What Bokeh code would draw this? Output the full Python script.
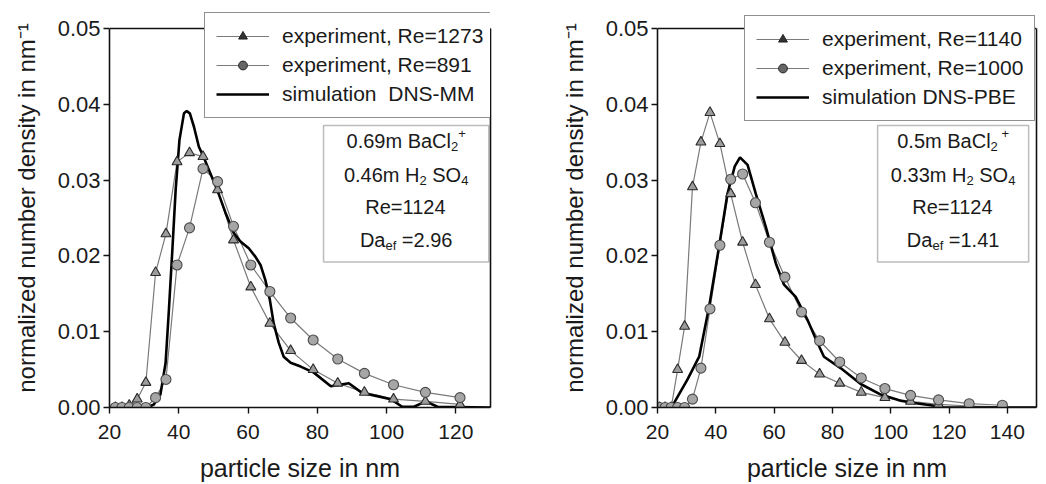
from bokeh.plotting import figure
from bokeh.layouts import row
from bokeh.models import (Range1d, FixedTicker, PrintfTickFormatter, Legend,
                          LegendItem, BoxAnnotation, Label, Span, LinearAxis)
from bokeh.embed import file_html
from bokeh.resources import INLINE

# ---------------- data: left panel (DNS-MM) ----------------
left_exp_x = [21.7, 23.6, 25.7, 28.0, 30.5, 33.3, 36.3, 39.5, 43.1, 47.0, 51.2,
              55.8, 60.8, 66.3, 72.3, 78.8, 85.9, 93.6, 102.0, 111.2, 121.2]
left_re1273 = [0, 0, 0.0003, 0.0011, 0.0033, 0.0178, 0.0229, 0.0324, 0.0336, 0.0331,
               0.0287, 0.0221, 0.0159, 0.0111, 0.0075, 0.0050, 0.0032, 0.0020,
               0.0011, 0.0008, 0.0004]
left_re891 = [0, 0, 0, 0, 0, 0.0013, 0.0037, 0.0188, 0.0237, 0.0315, 0.0298,
              0.0239, 0.0188, 0.0153, 0.0118, 0.0089, 0.0064, 0.0045, 0.0030,
              0.0020, 0.0013]
left_sim_x = [20, 30.9, 32.8, 34.7, 36.2, 37.1, 38.1, 39.1, 40.2, 41.5, 42.3, 43.2,
              44.4, 45.8, 47.2, 49.1, 51.1, 53.4, 55.9, 57.8, 60.2, 62.1, 63.6,
              65.0, 66.3, 67.4, 68.9, 70.3, 72.3, 75.2, 79.0, 83.9, 89.1, 93.0,
              97.3, 101.2, 104.5, 107.9, 111.3, 114.7, 130]
left_sim_y = [0, 0, 0.0004, 0.0017, 0.0059, 0.0125, 0.0204, 0.0287, 0.0353, 0.0388,
              0.0391, 0.0388, 0.0370, 0.0344, 0.0330, 0.0309, 0.0287, 0.0258,
              0.0230, 0.0219, 0.0210, 0.0199, 0.0188, 0.0168, 0.0142, 0.0111,
              0.0085, 0.0067, 0.0059, 0.0054, 0.0046, 0.0028, 0.0032, 0.0019,
              0.0015, 0.0011, 0.0001, 0.0001, 0.0008, 0.0001, 0]

# ---------------- data: right panel (DNS-PBE) ----------------
right_exp_x = [20.7, 22.6, 24.7, 26.9, 29.3, 32.0, 34.9, 38.0, 41.4, 45.1, 49.2,
               53.6, 58.4, 63.7, 69.4, 75.6, 82.5, 89.9, 98.0, 106.8, 116.4,
               126.9, 138.3]
right_re1140 = [0, 0, 0, 0.0050, 0.0107, 0.0291, 0.0350, 0.0389, 0.0348, 0.0282,
                0.0218, 0.0162, 0.0117, 0.0086, 0.0062, 0.0044, 0.0032, 0.0020,
                0.0013, 0.0008, 0.0004, 0.0002, 0.0001]
right_re1000 = [0, 0, 0, 0, 0, 0.0011, 0.0052, 0.0130, 0.0214, 0.0301, 0.0308,
                0.0270, 0.0218, 0.0172, 0.0126, 0.0088, 0.0060, 0.0039, 0.0025,
                0.0016, 0.0010, 0.0005, 0.0003]
right_sim_x = [20, 21.1, 25.7, 30.3, 34.3, 37.7, 41.1, 44.0, 46.5, 48.3, 50.9,
               53.7, 57.1, 60.6, 63.4, 67.4, 71.4, 74.9, 77.1, 82.8, 89.7, 96.6,
               103.4, 108.0, 113.7, 118.3, 150]
right_sim_y = [0, 0, 0.0006, 0.0037, 0.0067, 0.0133, 0.0212, 0.0282, 0.0318,
               0.0330, 0.0320, 0.0282, 0.0239, 0.0190, 0.0162, 0.0146, 0.0116,
               0.0085, 0.0067, 0.0052, 0.0031, 0.0017, 0.0009, 0.0006, 0.0003,
               0, 0]

y_ticks = [0.0, 0.01, 0.02, 0.03, 0.04, 0.05]
left_x_ticks = [20, 40, 60, 80, 100, 120]
right_x_ticks = [20, 40, 60, 80, 100, 120, 140]

left_labels = ["experiment, Re=1273", "experiment, Re=891", "simulation  DNS-MM"]
right_labels = ["experiment, Re=1140", "experiment, Re=1000", "simulation DNS-PBE"]

NB = "\u00a0"
left_box_lines = [[("0.69m BaCl", "n"), ("2", "sub"), ("+", "sup")],
                  [("0.46m H", "n"), ("2", "sub"), (NB + "SO", "n"), ("4", "sub")],
                  [("Re=1124", "n")],
                  [("Da", "n"), ("ef", "sub"), (NB + "=2.96", "n")]]
right_box_lines = [[("0.5m BaCl", "n"), ("2", "sub"), (NB + "+", "sup")],
                   [("0.33m H", "n"), ("2", "sub"), (NB + "SO", "n"), ("4", "sub")],
                   [("Re=1124", "n")],
                   [("Da", "n"), ("ef", "sub"), (NB + "=1.41", "n")]]

FONT = "Liberation Sans"
TXT = "#1a1a1a"
GRAY = "#7a7a7a"
DARK = "#111111"

CW = {'0': .556, '1': .556, '2': .556, '3': .556, '4': .556, '5': .556, '6': .556,
      '7': .556, '8': .556, '9': .556, '.': .278, ' ': .278, NB: .278, 'm': .833,
      'B': .667, 'a': .556, 'C': .722, 'l': .222, 'H': .722, 'S': .667, 'O': .778,
      'R': .722, 'e': .556, '=': .584, 'D': .722, 'f': .278, '+': .584}

NSIZE = 20
SSIZE = 13

Y_TOP = 0.05
FRAME_PAD = 400.0 / 380.0   # frame reaches above the 0.05 line so the legend can overhang


def twidth(t, size):
    return sum(CW.get(c, .556) for c in t) * size


def make_fig(width, xr, xticks, bl, br):
    p = figure(width=width, height=484, x_range=Range1d(*xr),
               y_range=Range1d(0, Y_TOP * FRAME_PAD),
               output_backend="svg", toolbar_location=None,
               min_border_left=bl, min_border_right=br, min_border_top=8,
               min_border_bottom=76)
    p.background_fill_color = "white"
    p.border_fill_color = "white"
    p.grid.visible = False
    p.outline_line_color = None
    for ax in (p.xaxis[0], p.yaxis[0]):
        ax.axis_line_width = 1.6
        ax.axis_line_color = DARK
        ax.major_tick_line_color = DARK
        ax.major_tick_line_width = 1.4
        ax.major_tick_out = 6
        ax.major_tick_in = 0
        ax.minor_tick_line_color = None
        ax.major_label_text_font = FONT
        ax.major_label_text_color = TXT
        ax.axis_label_text_font = FONT
        ax.axis_label_text_font_style = "normal"
        ax.axis_label_text_color = TXT
    p.xaxis.major_label_text_font_size = "21px"
    p.yaxis.major_label_text_font_size = "22px"
    p.xaxis.axis_label_text_font_size = "25px"
    p.yaxis.axis_label_text_font_size = "24px"
    p.yaxis.bounds = (0, Y_TOP)
    p.xaxis.ticker = FixedTicker(ticks=xticks)
    p.yaxis.ticker = FixedTicker(ticks=y_ticks)
    p.yaxis.formatter = PrintfTickFormatter(format="%.2f")
    p.xaxis.axis_label = "particle size in nm"
    p.yaxis.axis_label = "normalized number density in nm\u207b\u00b9"
    p.xaxis.major_label_standoff = 11
    p.yaxis.major_label_standoff = 3
    p.xaxis.axis_label_standoff = 12
    p.yaxis.axis_label_standoff = 15
    # frame: right side and top side
    right_ax = LinearAxis(bounds=(0, Y_TOP), ticker=FixedTicker(ticks=[]),
                          axis_line_width=1.6, axis_line_color=DARK,
                          major_tick_line_color=None, minor_tick_line_color=None,
                          major_label_text_font_size="0px")
    p.add_layout(right_ax, "right")
    p.add_layout(Span(location=Y_TOP, dimension="width", line_color=DARK,
                      line_width=1.6))
    return p


def add_series(p, ex, tri, cir, sx, sy, labels, legend_loc):
    lt = p.line(ex, tri, line_color=GRAY, line_width=1.2)
    lc = p.line(ex, cir, line_color=GRAY, line_width=1.2)
    ls = p.line(sx, sy, line_color="#000000", line_width=2.6)
    # small markers used as legend keys (hidden below the plot markers)
    m1 = p.scatter(ex, tri, marker="triangle", size=7, fill_color="#333333",
                   line_color="#222222")
    m2 = p.scatter(ex, cir, marker="circle", size=6, fill_color="#666666",
                   line_color="#222222")
    p.scatter(ex, tri, marker="triangle", size=10, fill_color="#9c9c9c",
              line_color="#2a2a2a", line_width=1.1)
    p.scatter(ex, cir, marker="circle", size=10, fill_color="#a6a6a6",
              line_color="#4a4a4a", line_width=1.1)
    leg = Legend(items=[LegendItem(label=labels[0], renderers=[lt, m1]),
                        LegendItem(label=labels[1], renderers=[lc, m2]),
                        LegendItem(label=labels[2], renderers=[ls])],
                 location=legend_loc)
    leg.label_text_font = FONT
    leg.label_text_font_size = "21px"
    leg.label_text_color = TXT
    leg.glyph_width = 53
    leg.glyph_height = 22
    leg.label_height = 22
    leg.label_standoff = 13
    leg.spacing = 5
    leg.padding = 11
    leg.margin = 0
    leg.border_line_color = "#222222"
    leg.border_line_width = 1.5
    leg.background_fill_color = "white"
    leg.background_fill_alpha = 1.0
    p.add_layout(leg)


def add_box(p, x0, x1, y0, y1, lines, offsets):
    p.add_layout(BoxAnnotation(left=x0, right=x1, bottom=y0, top=y1,
                               fill_color="white", fill_alpha=1.0,
                               line_color="#222222", line_width=1.5))
    cx = (x0 + x1) / 2.0
    cy = (y0 + y1) / 2.0
    for segs, yo in zip(lines, offsets):
        tot = sum(twidth(t, NSIZE if k == "n" else SSIZE) for t, k in segs)
        xo = -tot / 2.0
        for t, k in segs:
            size = NSIZE if k == "n" else SSIZE
            dy = {"n": 0, "sub": -6, "sup": 7}[k]
            p.add_layout(Label(x=cx, y=cy, x_offset=xo, y_offset=yo + dy, text=t,
                               text_font=FONT, text_font_size=f"{size}px",
                               text_color=TXT, text_align="left",
                               text_baseline="middle"))
            xo += twidth(t, size)


row_offsets = [53, 19, -13, -46]

p1 = make_fig(549, (20, 130), left_x_ticks, 109, 59)
add_series(p1, left_exp_x, left_re1273, left_re891, left_sim_x, left_sim_y,
           left_labels, (95, 289))
add_box(p1, 81.8, 129.5, 0.0192, 0.0372, left_box_lines, row_offsets)

p2 = make_fig(497, (20, 150), right_x_ticks, 108, 10)
add_series(p2, right_exp_x, right_re1140, right_re1000, right_sim_x, right_sim_y,
           right_labels, (87, 286))
add_box(p2, 95.5, 147.3, 0.0192, 0.0372, right_box_lines, row_offsets)

layout = row(p1, p2)
open("out.html", "w").write(file_html(layout, INLINE))
